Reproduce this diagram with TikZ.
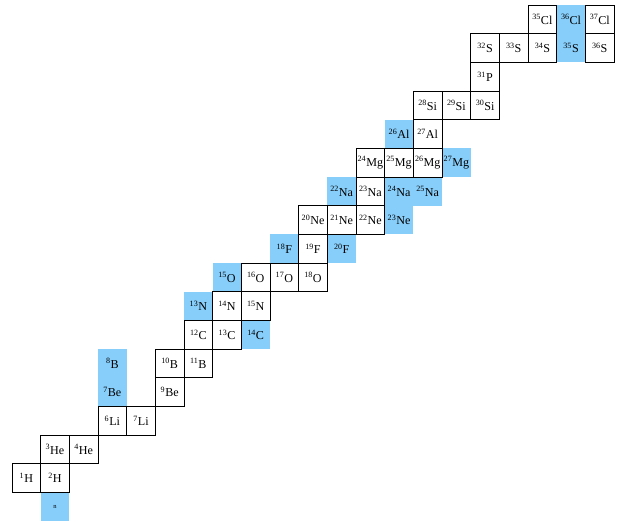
\documentclass[tikz,border=0pt]{standalone}
\usepackage{fontspec}
\setmainfont{Liberation Serif}
\usepackage{tikz}
\definecolor{unstable}{RGB}{135,206,250}
\newcommand{\iso}[2]{\textsuperscript{#1}#2}

\begin{document}
\begin{tikzpicture}[x=1cm, y=1cm,
    stable/.style={rectangle, draw=black, line width=0.6pt, minimum size=1cm,
                   inner sep=0pt, font=\fontsize{12}{14}\selectfont},
    decay/.style={rectangle, fill=unstable, minimum size=1cm,
                  inner sep=0pt, font=\fontsize{12}{14}\selectfont}
]
\useasboundingbox (-0.919,-0.5) rectangle (21.02,17.674);

% unstable nuclides (x = N, y = Z)
\node[decay, font=\fontsize{6.5}{7}\selectfont] (n) at (1,0) {n};
\node[decay] (Be7) at (3,4) {\iso{7}{Be}};
\node[decay] (B8) at (3,5) {\iso{8}{B}};
\node[decay] (C14) at (8,6) {\iso{14}{C}};
\node[decay] (N13) at (6,7) {\iso{13}{N}};
\node[decay] (O15) at (7,8) {\iso{15}{O}};
\node[decay] (F18) at (9,9) {\iso{18}{F}};
\node[decay] (F20) at (11,9) {\iso{20}{F}};
\node[decay] (Ne23) at (13,10) {\iso{23}{Ne}};
\node[decay] (Na22) at (11,11) {\iso{22}{Na}};
\node[decay] (Na24) at (13,11) {\iso{24}{Na}};
\node[decay] (Na25) at (14,11) {\iso{25}{Na}};
\node[decay] (Mg27) at (15,12) {\iso{27}{Mg}};
\node[decay] (Al26) at (13,13) {\iso{26}{Al}};
\node[decay] (S35) at (19,16) {\iso{35}{S}};
\node[decay] (Cl36) at (19,17) {\iso{36}{Cl}};

% stable nuclides
\node[stable] (H1) at (0,1) {\iso{1}{H}};
\node[stable] (H2) at (1,1) {\iso{2}{H}};
\node[stable] (He3) at (1,2) {\iso{3}{He}};
\node[stable] (He4) at (2,2) {\iso{4}{He}};
\node[stable] (Li6) at (3,3) {\iso{6}{Li}};
\node[stable] (Li7) at (4,3) {\iso{7}{Li}};
\node[stable] (Be9) at (5,4) {\iso{9}{Be}};
\node[stable] (B10) at (5,5) {\iso{10}{B}};
\node[stable] (B11) at (6,5) {\iso{11}{B}};
\node[stable] (C12) at (6,6) {\iso{12}{C}};
\node[stable] (C13) at (7,6) {\iso{13}{C}};
\node[stable] (N14) at (7,7) {\iso{14}{N}};
\node[stable] (N15) at (8,7) {\iso{15}{N}};
\node[stable] (O16) at (8,8) {\iso{16}{O}};
\node[stable] (O17) at (9,8) {\iso{17}{O}};
\node[stable] (O18) at (10,8) {\iso{18}{O}};
\node[stable] (F19) at (10,9) {\iso{19}{F}};
\node[stable] (Ne20) at (10,10) {\iso{20}{Ne}};
\node[stable] (Ne21) at (11,10) {\iso{21}{Ne}};
\node[stable] (Ne22) at (12,10) {\iso{22}{Ne}};
\node[stable] (Na23) at (12,11) {\iso{23}{Na}};
\node[stable] (Mg24) at (12,12) {\iso{24}{Mg}};
\node[stable] (Mg25) at (13,12) {\iso{25}{Mg}};
\node[stable] (Mg26) at (14,12) {\iso{26}{Mg}};
\node[stable] (Al27) at (14,13) {\iso{27}{Al}};
\node[stable] (Si28) at (14,14) {\iso{28}{Si}};
\node[stable] (Si29) at (15,14) {\iso{29}{Si}};
\node[stable] (Si30) at (16,14) {\iso{30}{Si}};
\node[stable] (P31) at (16,15) {\iso{31}{P}};
\node[stable] (S32) at (16,16) {\iso{32}{S}};
\node[stable] (S33) at (17,16) {\iso{33}{S}};
\node[stable] (S34) at (18,16) {\iso{34}{S}};
\node[stable] (S36) at (20,16) {\iso{36}{S}};
\node[stable] (Cl35) at (18,17) {\iso{35}{Cl}};
\node[stable] (Cl37) at (20,17) {\iso{37}{Cl}};
\end{tikzpicture}
\end{document}
